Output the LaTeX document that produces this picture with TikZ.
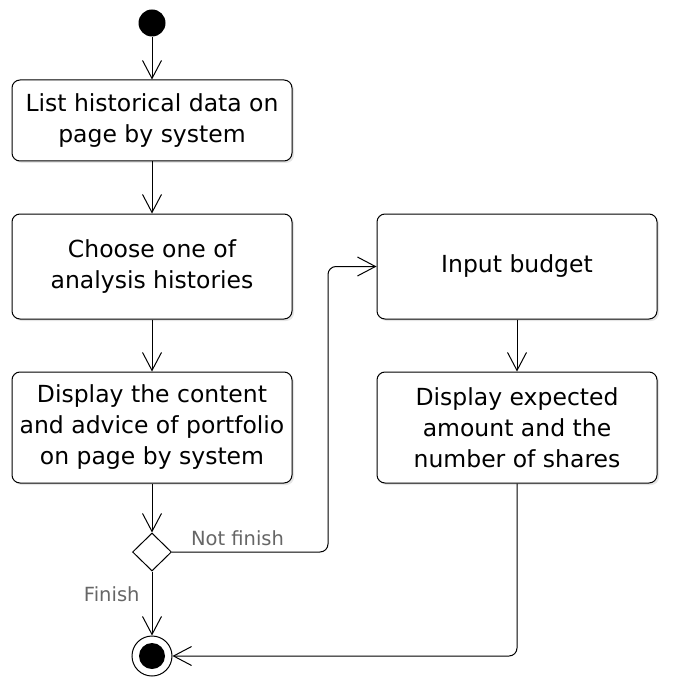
\documentclass[tikz,border=0pt]{standalone}
\usepackage{fontspec}
\setmainfont{DejaVu Sans}
\usetikzlibrary{arrows.meta,shapes.geometric,shadows}

\begin{document}
\begin{tikzpicture}[x=1pt,y=-1pt,
    line width=1pt,
    >={Straight Barb[length=18pt,width=19pt,line width=1pt]},
    activity/.style={draw,rectangle,rounded corners=8pt,fill=white,align=center,
        minimum width=280pt,inner sep=0pt,
        font=\fontsize{23.5}{31}\selectfont,
        drop shadow={opacity=0.2,shadow xshift=2pt,shadow yshift=-2pt}},
    guard/.style={text=black!60,inner sep=0pt,font=\fontsize{19.5}{23}\selectfont}]
        \useasboundingbox (0,0) rectangle (682,687);
        \node [circle,fill=black,minimum size=27pt,inner sep=0pt] (start) at (152,23) {};
        \node [activity,minimum height=81pt] (list) at (152,120.5) {List historical data on\\page by system};
        \node [activity,minimum height=105pt] (choose) at (152,266.5) {Choose one of\\analysis histories};
        \node [activity,minimum height=111pt] (display) at (152,427.5) {Display the content\\and advice of portfolio\\on page by system};
        \node [activity,minimum height=105pt] (budget) at (517,266.5) {Input budget};
        \node [activity,minimum height=111pt] (amount) at (517,427.5) {Display expected\\amount and the\\number of shares};
        \node [diamond,draw,fill=white,aspect=1,minimum width=39pt,minimum height=38pt,inner sep=0pt] (decide) at (152,552) {};
        \node [circle,draw,fill=white,minimum size=40pt,inner sep=0pt] (end) at (152,656) {};
        \node [circle,fill=black,minimum size=26pt,inner sep=0pt] (endin) at (end) {};
        \draw [->] (start) -- (list);
        \draw [->] (list) -- (choose);
        \draw [->] (choose) -- (display);
        \draw [->] (display) -- (decide);
        \draw [->] (decide) -- node [guard,left=12pt,pos=0.35] {Finish} (end);
        \draw [->,rounded corners=8pt] (decide.east) -- node [guard,above=6pt,pos=0.42] {Not finish} ++(156,0) |- (budget);
        \draw [->] (budget) -- (amount);
        \draw [->,rounded corners=8pt] (amount) |- (end);
    \end{tikzpicture}
\end{document}
